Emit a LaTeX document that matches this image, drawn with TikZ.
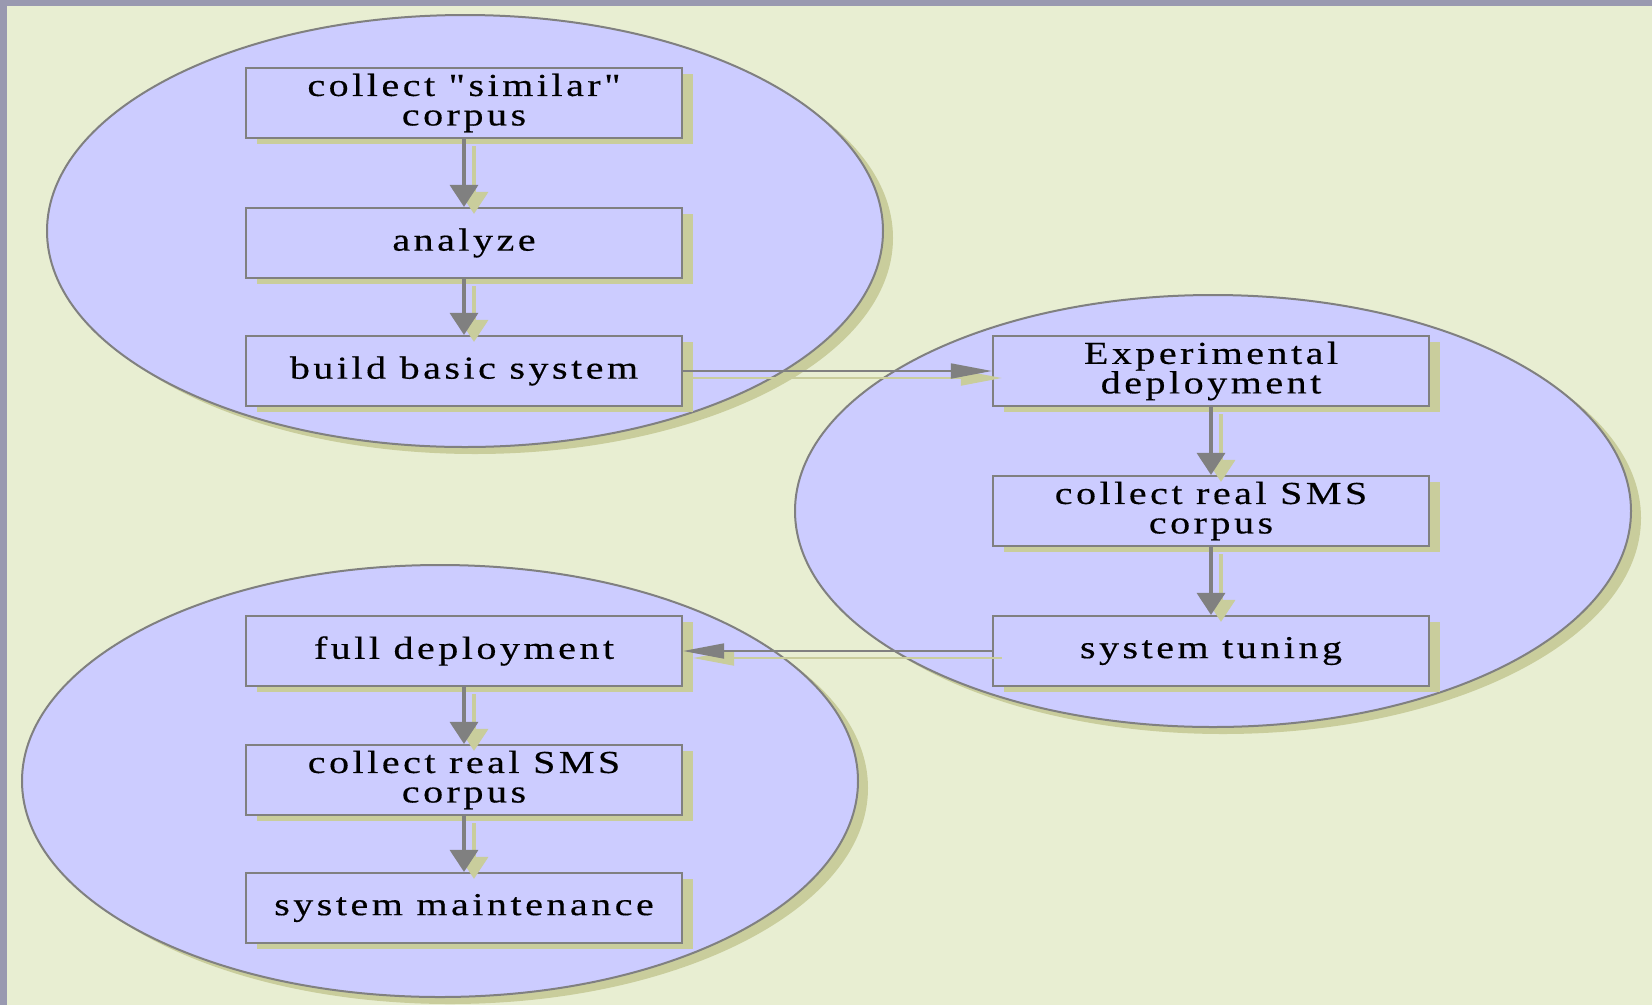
\documentclass[tikz,border=0pt]{standalone}
\usepackage{fontspec}
\setmainfont{Liberation Serif}[Ligatures=TeXOff,FakeStretch=1.25,LetterSpace=11,FakeBold=0.4]
\usetikzlibrary{arrows.meta,shapes.geometric,shadows}
\definecolor{pagebg}{HTML}{E8EED2}
\definecolor{framebar}{HTML}{9999B0}
\definecolor{clusterfill}{HTML}{CCCCFF}
\definecolor{shade}{HTML}{C9CD9C}
\definecolor{edgegray}{HTML}{808080}
\tikzset{
  cluster/.style={ellipse, draw=edgegray, line width=2pt, fill=clusterfill,
    inner sep=0pt, minimum width=836pt, minimum height=432pt,
    drop shadow={shadow xshift=10pt, shadow yshift=-7pt, fill=shade, opacity=1}},
  stepbox/.style={rectangle, draw=edgegray, line width=2.2pt, fill=clusterfill,
    minimum width=436pt, minimum height=70pt, inner sep=0pt, align=center,
    font=\fontsize{32}{29.5}\selectfont,
    drop shadow={shadow xshift=11pt, shadow yshift=-6pt, fill=shade, opacity=1}},
  vlink/.style={draw=edgegray, line width=3.5pt, -{Triangle[length=22pt,width=28pt]}},
  hlink/.style={draw=edgegray, line width=1.8pt, -{Triangle[length=41pt,width=15pt]}},
  linkshade/.style={draw=shade, transform canvas={shift={(10pt,-7pt)}}},
}
\begin{document}
\begin{tikzpicture}[x=1pt,y=-1pt]
  \useasboundingbox (0,0) rectangle (1652,1005);
  % page background with the frame bars on top and left
  \fill[pagebg] (0,0) rectangle (1652,1005);
  \fill[framebar] (0,0) rectangle (1652,6);
  \fill[framebar] (0,0) rectangle (7,1005);

  % three phase clusters
  \node[cluster] (c1) at (465,231) {};
  \node[cluster] (c2) at (1213,511) {};
  \node[cluster] (c3) at (440,781) {};

  % phase 1
  \node[stepbox] (a1) at (464,103) {collect "similar"\\corpus};
  \node[stepbox] (a2) at (464,243) {analyze};
  \node[stepbox] (a3) at (464,371) {build basic system};
  % phase 2
  \node[stepbox] (b1) at (1211,371) {Experimental\\deployment};
  \node[stepbox] (b2) at (1211,511) {collect real SMS\\corpus};
  \node[stepbox] (b3) at (1211,651) {system tuning};
  % phase 3
  \node[stepbox] (d1) at (464,651) {full deployment};
  \node[stepbox] (d2) at (464,780) {collect real SMS\\corpus};
  \node[stepbox] (d3) at (464,908) {system maintenance};

  % connector shadows
  \draw[vlink, linkshade] (a1) -- (a2);
  \draw[vlink, linkshade] (a2) -- (a3);
  \draw[vlink, linkshade] (b1) -- (b2);
  \draw[vlink, linkshade] (b2) -- (b3);
  \draw[vlink, linkshade] (d1) -- (d2);
  \draw[vlink, linkshade] (d2) -- (d3);
  \draw[hlink, linkshade] (a3) -- (b1);
  \draw[hlink, linkshade] (b3) -- (d1);

  % connectors
  \draw[vlink] (a1) -- (a2);
  \draw[vlink] (a2) -- (a3);
  \draw[vlink] (b1) -- (b2);
  \draw[vlink] (b2) -- (b3);
  \draw[vlink] (d1) -- (d2);
  \draw[vlink] (d2) -- (d3);
  \draw[hlink] (a3) -- (b1);
  \draw[hlink] (b3) -- (d1);
\end{tikzpicture}
\end{document}
